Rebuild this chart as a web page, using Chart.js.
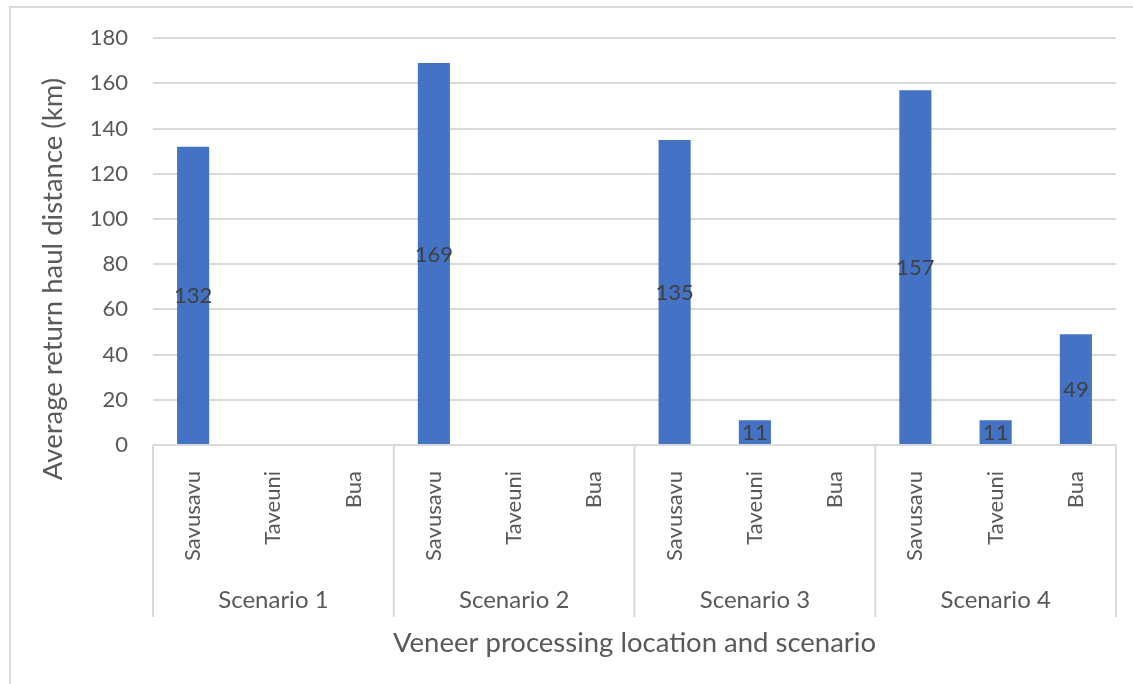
<!DOCTYPE html>
<html>
<head>
<meta charset="utf-8">
<script src="https://cdn.jsdelivr.net/npm/chart.js@4.4.1/dist/chart.umd.min.js"></script>
<style>
  html, body { margin: 0; padding: 0; background: #ffffff; overflow: hidden; }
  #wrap { position: relative; width: 1133px; height: 684px; }
  #frame { position: absolute; left: 9px; top: 6px; width: 1200px; height: 800px;
           border: 2px solid #d9d9d9; box-sizing: border-box; }
  #c { position: absolute; left: 0; top: 0; }
</style>
</head>
<body>
<div id="wrap">
  <div id="frame"></div>
  <canvas id="c" width="1133" height="684"></canvas>
</div>
<script>
// Scenario groups and the processing locations inside each group
const scenarios = ['Scenario 1', 'Scenario 2', 'Scenario 3', 'Scenario 4'];
const locations = ['Savusavu', 'Taveuni', 'Bua'];

// Average return haul distance (km); null where a location is not used
const haulS1 = [132, null, null];
const haulS2 = [169, null, null];
const haulS3 = [135, 11, null];
const haulS4 = [157, 11, 49];

// Value axis range
const yMin = 0;
const yMax = 180;
const yStep = 20;

const yTitle = 'Average return haul distance (km)';
const xTitle = 'Veneer processing location and scenario';

const categories = scenarios.flatMap(() => locations);
const values = [...haulS1, ...haulS2, ...haulS3, ...haulS4];

const FONT = 'Lato, "Open Sans", sans-serif';
const TEXT = '#595959';
const GRID = '#d9d9d9';

// Value labels centred inside each bar
const barLabels = {
  id: 'barLabels',
  afterDatasetsDraw(chart) {
    const ctx = chart.ctx;
    const meta = chart.getDatasetMeta(0);
    ctx.save();
    ctx.font = '22px ' + FONT;
    ctx.fillStyle = '#404040';
    ctx.textAlign = 'center';
    ctx.textBaseline = 'middle';
    meta.data.forEach((bar, i) => {
      const v = values[i];
      if (v == null) return;
      const p = bar.getProps(['x', 'y', 'base'], true);
      ctx.fillText(String(v), p.x, (p.y + p.base) / 2 + 1);
    });
    ctx.restore();
  }
};

// Second category level (scenarios), group separators and axis titles
const groupAxis = {
  id: 'groupAxis',
  afterDraw(chart) {
    const ctx = chart.ctx;
    const xs = chart.scales.x;
    const area = chart.chartArea;
    const half = (xs.getPixelForValue(1) - xs.getPixelForValue(0)) / 2;
    const n = locations.length;
    const sepBottom = 617;

    ctx.save();
    ctx.strokeStyle = GRID;
    ctx.lineWidth = 2;
    for (let g = 0; g <= scenarios.length; g++) {
      const idx = Math.min(g * n, categories.length - 1);
      const x = g * n < categories.length ? xs.getPixelForValue(idx) - half
                                          : xs.getPixelForValue(idx) + half;
      ctx.beginPath();
      ctx.moveTo(x, area.bottom);
      ctx.lineTo(x, sepBottom);
      ctx.stroke();
    }

    ctx.fillStyle = TEXT;
    ctx.font = '24px ' + FONT;
    ctx.textAlign = 'center';
    ctx.textBaseline = 'alphabetic';
    scenarios.forEach((s, g) => {
      const a = xs.getPixelForValue(g * n);
      const b = xs.getPixelForValue(g * n + n - 1);
      ctx.fillText(s, (a + b) / 2, 608);
    });

    ctx.font = '27.5px ' + FONT;
    ctx.fillText(xTitle, (area.left + area.right) / 2, 652);

    ctx.translate(62, 279);
    ctx.rotate(-Math.PI / 2);
    ctx.fillText(yTitle, 0, 0);
    ctx.restore();
  }
};

new Chart(document.getElementById('c'), {
  type: 'bar',
  data: {
    labels: categories,
    datasets: [{
      data: values,
      backgroundColor: '#4472c4',
      borderWidth: 0,
      barPercentage: 0.4,
      categoryPercentage: 1.0
    }]
  },
  options: {
    responsive: false,
    devicePixelRatio: 1,
    animation: false,
    layout: { padding: { left: 0, right: 17, top: 38, bottom: 0 } },
    plugins: { legend: { display: false }, tooltip: { enabled: false } },
    scales: {
      x: {
        grid: { display: false },
        border: { display: false },
        ticks: {
          autoSkip: false,
          minRotation: 90,
          maxRotation: 90,
          padding: 18,
          color: TEXT,
          font: { family: FONT, size: 22 }
        },
        afterFit(scale) { scale.height = 239; }
      },
      y: {
        min: yMin,
        max: yMax,
        grid: { color: GRID, lineWidth: 2, drawTicks: false },
        border: { display: false },
        ticks: {
          stepSize: yStep,
          padding: 25,
          color: TEXT,
          font: { family: FONT, size: 22 }
        },
        afterFit(scale) { scale.width = 153; }
      }
    }
  },
  plugins: [barLabels, groupAxis]
});
</script>
</body>
</html>
